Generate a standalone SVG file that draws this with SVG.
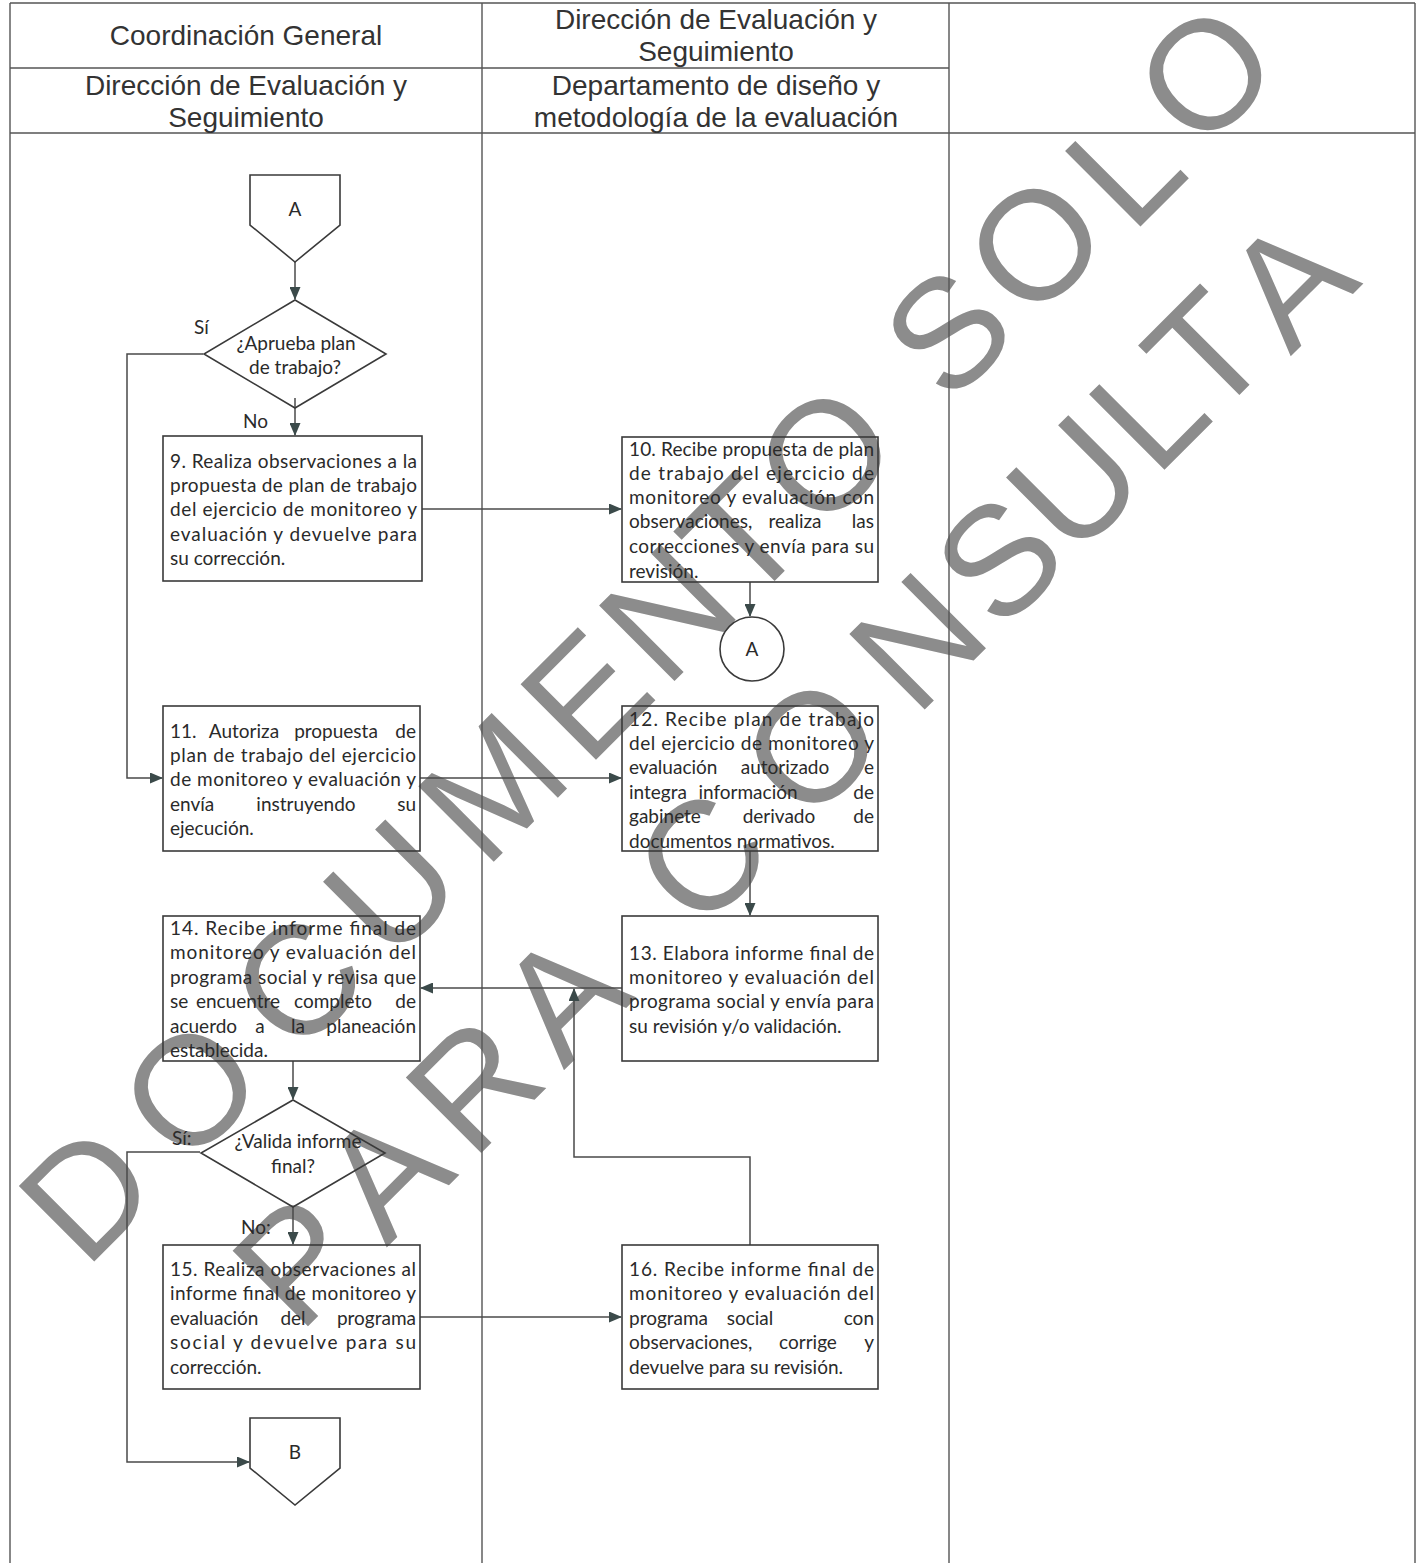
<svg xmlns="http://www.w3.org/2000/svg" width="1418" height="1563" viewBox="0 0 1418 1563">
<defs>
<style>
.hdr{font-family:"Liberation Sans",Arial,sans-serif;font-size:28px;fill:#333;text-anchor:middle}
.t{font-family:Lato,"Open Sans",sans-serif;font-size:19px;fill:#2a2a2a}
.c{text-anchor:middle}
.e{text-anchor:end}
.box{fill:none;stroke:#3a3a3a;stroke-width:1.6}
.grid{fill:none;stroke:#555;stroke-width:1.4}
.ln{fill:none;stroke:#4a4a4a;stroke-width:1.5}
.wm{font-family:"Liberation Sans",Arial,sans-serif;font-size:155px;fill:#8c8c8c;text-anchor:middle}
</style>
<marker id="ah" markerUnits="userSpaceOnUse" markerWidth="13" markerHeight="11" refX="12" refY="5.5" orient="auto">
<path d="M0,0 L13,5.5 L0,11 z" fill="#3b4a4a"/>
</marker>
</defs>
<rect x="0" y="0" width="1418" height="1563" fill="#fff"/>

<g id="watermark">
<text class="wm" transform="translate(124.8,1230.8) rotate(-45)">D</text>
<text class="wm" transform="translate(228.1,1127.5) rotate(-45)">O</text>
<text class="wm" transform="translate(335.7,1019.9) rotate(-45)">C</text>
<text class="wm" transform="translate(429.7,926) rotate(-45)">U</text>
<text class="wm" transform="translate(530.4,825.2) rotate(-45)">M</text>
<text class="wm" transform="translate(623.5,732.1) rotate(-45)">E</text>
<text class="wm" transform="translate(705.2,650.4) rotate(-45)">N</text>
<text class="wm" transform="translate(779.8,575.8) rotate(-45)">T</text>
<text class="wm" transform="translate(862.7,492.9) rotate(-45)">O</text>
<text class="wm" transform="translate(985.6,370) rotate(-45)">S</text>
<text class="wm" transform="translate(1073.2,282.5) rotate(-45)">O</text>
<text class="wm" transform="translate(1162,205) rotate(-45)">L</text>
<text class="wm" transform="translate(1243.5,112.1) rotate(-45)">O</text>
<text class="wm" transform="translate(335.5,1298.7) rotate(-45)">P</text>
<text class="wm" transform="translate(423.1,1211.1) rotate(-45)">A</text>
<text class="wm" transform="translate(511.8,1122.5) rotate(-45)">R</text>
<text class="wm" transform="translate(600.3,1034) rotate(-45)">A</text>
<text class="wm" transform="translate(739,895.3) rotate(-45)">C</text>
<text class="wm" transform="translate(849.6,784.7) rotate(-45)">O</text>
<text class="wm" transform="translate(955.3,678.9) rotate(-45)">N</text>
<text class="wm" transform="translate(1036.8,597.5) rotate(-45)">S</text>
<text class="wm" transform="translate(1112.7,521.6) rotate(-45)">U</text>
<text class="wm" transform="translate(1186.1,448.2) rotate(-45)">L</text>
<text class="wm" transform="translate(1244.5,389.8) rotate(-45)">T</text>
<text class="wm" transform="translate(1327,320) rotate(-45)">A</text>
</g>

<g id="table">
<path class="grid" d="M10,3 H1415 M10,3 V1563 M482,3 V1563 M949,3 V1563 M1415,3 V1563 M10,68 H949 M10,133 H1415"/>
<text class="hdr" x="246" y="45">Coordinación General</text>
<text class="hdr" x="716" y="29">Dirección de Evaluación y</text>
<text class="hdr" x="716" y="61">Seguimiento</text>
<text class="hdr" x="246" y="95">Dirección de Evaluación y</text>
<text class="hdr" x="246" y="127">Seguimiento</text>
<text class="hdr" x="716" y="95">Departamento de diseño y</text>
<text class="hdr" x="716" y="127">metodología de la evaluación</text>
</g>

<g id="connectors">
<path class="ln" d="M295,262 V299" marker-end="url(#ah)"/>
<path class="ln" d="M295,398 V435" marker-end="url(#ah)"/>
<path class="ln" d="M203,354 H127 V778 H162" marker-end="url(#ah)"/>
<path class="ln" d="M422,509 H621" marker-end="url(#ah)"/>
<path class="ln" d="M750,582 V616" marker-end="url(#ah)"/>
<path class="ln" d="M420,778 H621" marker-end="url(#ah)"/>
<path class="ln" d="M750,851 V915" marker-end="url(#ah)"/>
<path class="ln" d="M622,988 H421" marker-end="url(#ah)"/>
<path class="ln" d="M750,1245 V1157 H574 V989" marker-end="url(#ah)"/>
<path class="ln" d="M293,1061 V1099" marker-end="url(#ah)"/>
<path class="ln" d="M200,1152 H127 V1462 H249" marker-end="url(#ah)"/>
<path class="ln" d="M293,1207 V1244" marker-end="url(#ah)"/>
<path class="ln" d="M420,1317 H621" marker-end="url(#ah)"/>
<text class="t" x="194" y="334">Sí</text>
<text class="t" x="243" y="428">No</text>
<text class="t" x="172" y="1145">Sí:</text>
<text class="t" x="241" y="1234">No:</text>
</g>

<g id="connA_top">
<path class="box" d="M250,175 H340 V225 L295,262 L250,225 Z"/>
<text class="t c" x="295" y="216">A</text>
</g>

<g id="dec1">
<path class="box" d="M295,300 L386,354 L295,408 L204,354 Z"/>
<text class="t c" x="296" y="350">¿Aprueba plan</text>
<text class="t c" x="295" y="374">de trabajo?</text>
</g>

<g id="n9">
<rect class="box" x="163" y="436" width="259" height="145"/>
<text class="t" x="170" y="468" textLength="247" lengthAdjust="spacing">9. Realiza observaciones a la</text>
<text class="t" x="170" y="492" textLength="247" lengthAdjust="spacing">propuesta de plan de trabajo</text>
<text class="t" x="170" y="516" textLength="247" lengthAdjust="spacing">del ejercicio de monitoreo y</text>
<text class="t" x="170" y="541" textLength="247" lengthAdjust="spacing">evaluación y devuelve  para</text>
<text class="t" x="170" y="565">su corrección.</text>
</g>

<g id="n10">
<rect class="box" x="622" y="437" width="256" height="145"/>
<text class="t" x="629" y="456" textLength="245" lengthAdjust="spacing">10. Recibe propuesta de plan</text>
<text class="t" x="629" y="480" textLength="245" lengthAdjust="spacing">de trabajo del ejercicio de</text>
<text class="t" x="629" y="504" textLength="245" lengthAdjust="spacing">monitoreo y evaluación con</text>
<text class="t" y="528"><tspan x="629">observaciones,</tspan><tspan x="795" class="c">realiza</tspan><tspan x="874" class="e">las</tspan></text>
<text class="t" x="629" y="553" textLength="245" lengthAdjust="spacing">correcciones y envía para su</text>
<text class="t" x="629" y="578">revisión.</text>
</g>

<g id="connA_circle">
<circle class="box" cx="752" cy="649" r="32"/>
<text class="t c" x="752" y="656">A</text>
</g>

<g id="n11">
<rect class="box" x="163" y="706" width="257" height="145"/>
<text class="t" y="738"><tspan x="170">11.</tspan><tspan x="244" class="c">Autoriza</tspan><tspan x="336" class="c">propuesta</tspan><tspan x="416" class="e">de</tspan></text>
<text class="t" x="170" y="762" textLength="246" lengthAdjust="spacing">plan de trabajo del ejercicio</text>
<text class="t" x="170" y="786" textLength="246" lengthAdjust="spacing">de monitoreo y evaluación y</text>
<text class="t" y="811"><tspan x="170">envía</tspan><tspan x="306" class="c">instruyendo</tspan><tspan x="416" class="e">su</tspan></text>
<text class="t" x="170" y="835">ejecución.</text>
</g>

<g id="n12">
<rect class="box" x="622" y="706" width="256" height="145"/>
<text class="t" x="629" y="726" textLength="245" lengthAdjust="spacing">12. Recibe plan de trabajo</text>
<text class="t" x="629" y="750" textLength="245" lengthAdjust="spacing">del ejercicio de monitoreo y</text>
<text class="t" y="774"><tspan x="629">evaluación</tspan><tspan x="785" class="c">autorizado</tspan><tspan x="874" class="e">e</tspan></text>
<text class="t" y="799"><tspan x="629">integra</tspan><tspan x="748" class="c">información</tspan><tspan x="874" class="e">de</tspan></text>
<text class="t" y="823"><tspan x="629">gabinete</tspan><tspan x="779" class="c">derivado</tspan><tspan x="874" class="e">de</tspan></text>
<text class="t" x="629" y="848">documentos normativos.</text>
</g>

<g id="n13">
<rect class="box" x="622" y="916" width="256" height="145"/>
<text class="t" x="629" y="960" textLength="245" lengthAdjust="spacing">13. Elabora informe final de</text>
<text class="t" x="629" y="984" textLength="245" lengthAdjust="spacing">monitoreo y evaluación del</text>
<text class="t" x="629" y="1008" textLength="245" lengthAdjust="spacing">programa social y envía para</text>
<text class="t" x="629" y="1033">su revisión y/o validación.</text>
</g>

<g id="n14">
<rect class="box" x="163" y="916" width="257" height="145"/>
<text class="t" x="170" y="935" textLength="246" lengthAdjust="spacing">14. Recibe informe final de</text>
<text class="t" x="170" y="959" textLength="246" lengthAdjust="spacing">monitoreo y evaluación del</text>
<text class="t" x="170" y="984" textLength="246" lengthAdjust="spacing">programa social y revisa que</text>
<text class="t" y="1008"><tspan x="170">se</tspan><tspan x="238" class="c">encuentre</tspan><tspan x="333" class="c">completo</tspan><tspan x="416" class="e">de</tspan></text>
<text class="t" y="1033"><tspan x="170">acuerdo</tspan><tspan x="260" class="c">a</tspan><tspan x="298" class="c">la</tspan><tspan x="416" class="e">planeación</tspan></text>
<text class="t" x="170" y="1057">establecida.</text>
</g>

<g id="dec2">
<path class="box" d="M293,1100 L385,1153 L293,1207 L201,1153 Z"/>
<text class="t c" x="298" y="1148">¿Valida informe</text>
<text class="t c" x="293" y="1173">final?</text>
</g>

<g id="n15">
<rect class="box" x="163" y="1245" width="257" height="144"/>
<text class="t" x="170" y="1276" textLength="246" lengthAdjust="spacing">15. Realiza observaciones al</text>
<text class="t" x="170" y="1300" textLength="246" lengthAdjust="spacing">informe final de monitoreo y</text>
<text class="t" y="1325"><tspan x="170">evaluación</tspan><tspan x="293" class="c">del</tspan><tspan x="416" class="e">programa</tspan></text>
<text class="t" x="170" y="1349" textLength="246" lengthAdjust="spacing">social y devuelve para su</text>
<text class="t" x="170" y="1374">corrección.</text>
</g>

<g id="n16">
<rect class="box" x="622" y="1245" width="256" height="144"/>
<text class="t" x="629" y="1276" textLength="245" lengthAdjust="spacing">16. Recibe informe final de</text>
<text class="t" x="629" y="1300" textLength="245" lengthAdjust="spacing">monitoreo y evaluación del</text>
<text class="t" y="1325"><tspan x="629">programa</tspan><tspan x="750" class="c">social</tspan><tspan x="874" class="e">con</tspan></text>
<text class="t" y="1349"><tspan x="629">observaciones,</tspan><tspan x="808" class="c">corrige</tspan><tspan x="874" class="e">y</tspan></text>
<text class="t" x="629" y="1374">devuelve para su revisión.</text>
</g>

<g id="connB">
<path class="box" d="M250,1418 H340 V1468 L295,1505 L250,1468 Z"/>
<text class="t c" x="295" y="1459">B</text>
</g>
</svg>
